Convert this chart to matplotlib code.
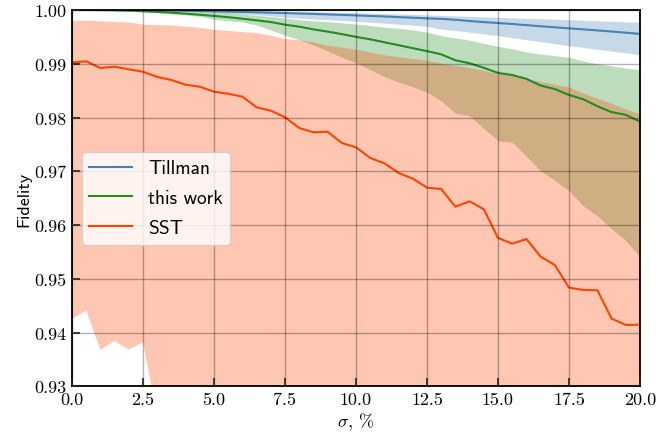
import numpy as np
import matplotlib
matplotlib.use("Agg")
import matplotlib.pyplot as plt

plt.rcParams['mathtext.fontset'] = 'cm'

sigma = [0.0, 0.5, 1.0, 1.5, 2.0, 2.5, 3.0, 3.5, 4.0, 4.5, 5.0, 5.5, 6.0, 6.5, 7.0, 7.5,
         8.0, 8.5, 9.0, 9.5, 10.0, 10.5, 11.0, 11.5, 12.0, 12.5, 13.0, 13.5, 14.0, 14.5,
         15.0, 15.5, 16.0, 16.5, 17.0, 17.5, 18.0, 18.5, 19.0, 19.5, 20.0]

tillman_mean = [1.0, 1.0, 1.0, 0.99999, 0.99997, 0.99995, 0.99992, 0.99989, 0.99985, 0.99980,
                0.99975, 0.99969, 0.99963, 0.99957, 0.99950, 0.99943, 0.99935, 0.99927, 0.99918,
                0.99909, 0.99900, 0.99890, 0.99880, 0.99868, 0.99857, 0.99845, 0.99835, 0.99818,
                0.99795, 0.99775, 0.99758, 0.99740, 0.99718, 0.99698, 0.99678, 0.99659, 0.99640,
                0.99620, 0.99600, 0.99578, 0.99556]
tillman_upper = [1.0, 1.0, 1.0, 1.0, 1.0, 1.0, 1.0, 1.0, 1.0, 1.0,
                 0.99998, 0.99995, 0.9999, 0.99987, 0.99983, 0.9998, 0.99975, 0.9997, 0.99963,
                 0.99957, 0.9995, 0.99943, 0.99935, 0.99927, 0.9992, 0.9991, 0.999, 0.9989,
                 0.99882, 0.99873, 0.99864, 0.99855, 0.99846, 0.99838, 0.99829, 0.9982, 0.9981,
                 0.998, 0.9979, 0.9978, 0.99771]
tillman_lower = [1.0, 1.0, 0.99999, 0.99998, 0.99996, 0.99993, 0.9999, 0.99985, 0.9998, 0.99973,
                 0.99963, 0.99945, 0.9993, 0.99912, 0.99892, 0.99864, 0.99848, 0.99832, 0.99818,
                 0.99805, 0.9979, 0.99773, 0.99756, 0.99737, 0.99718, 0.99697, 0.99647, 0.99618,
                 0.99588, 0.99555, 0.99522, 0.99485, 0.99448, 0.9941, 0.99373, 0.99336, 0.99303,
                 0.9927, 0.99236, 0.99202, 0.99169]

work_mean = [1.0, 1.0, 0.99998, 0.99995, 0.9999, 0.99978, 0.99965, 0.9995, 0.99932, 0.99912,
             0.9989, 0.99866, 0.99838, 0.99808, 0.99776, 0.99727, 0.9969, 0.9964, 0.99598,
             0.99552, 0.995, 0.99455, 0.994, 0.99345, 0.9929, 0.99235, 0.99175, 0.99065,
             0.9901, 0.98925, 0.9883, 0.9879, 0.9872, 0.98595, 0.9853, 0.9842, 0.9834,
             0.9821, 0.981, 0.9805, 0.97925]
work_upper = [1.0, 1.0, 1.0, 1.0, 1.0, 0.99995, 0.9999, 0.99985, 0.9998, 0.99972,
              0.99962, 0.9995, 0.9993, 0.999, 0.9988, 0.99851, 0.9982, 0.998, 0.99785,
              0.9976, 0.9974, 0.9971, 0.9968, 0.9966, 0.9963, 0.9959, 0.9952, 0.9948,
              0.9944, 0.9938, 0.99324, 0.9928, 0.9922, 0.9918, 0.9915, 0.9912, 0.9905,
              0.99, 0.9896, 0.9892, 0.9889]
work_lower = [1.0, 1.0, 0.99995, 0.9999, 0.9998, 0.99965, 0.9995, 0.9993, 0.9991, 0.9988,
              0.9983, 0.998, 0.9978, 0.9972, 0.9963, 0.9953, 0.9945, 0.9935, 0.9924,
              0.9912, 0.9902, 0.9889, 0.9876, 0.9866, 0.9857, 0.9847, 0.9831, 0.9808,
              0.9803, 0.978, 0.9757, 0.9754, 0.9728, 0.9701, 0.9683, 0.9664, 0.9636,
              0.9617, 0.9593, 0.9571, 0.9541]

sst_mean = [0.99027, 0.99046, 0.98921, 0.98945, 0.98897, 0.98852, 0.98754, 0.98698, 0.9861,
            0.98573, 0.9848, 0.98443, 0.98387, 0.9819, 0.98127, 0.98004, 0.97805, 0.97725,
            0.97736, 0.97526, 0.97446, 0.97247, 0.97148, 0.96968, 0.96862, 0.96695, 0.9667,
            0.96341, 0.96441, 0.96293, 0.95759, 0.95653, 0.9574, 0.95411, 0.95257, 0.94835,
            0.94792, 0.94786, 0.94258, 0.94141, 0.94146]
sst_upper = [0.998, 0.998, 0.9979, 0.9978, 0.9977, 0.9973, 0.9972, 0.9971, 0.9969, 0.9967,
             0.9963, 0.9961, 0.9959, 0.9957, 0.9952, 0.9946, 0.9944, 0.994, 0.9934, 0.993,
             0.9926, 0.9921, 0.9916, 0.9912, 0.9909, 0.9906, 0.99, 0.9896, 0.9892, 0.9887,
             0.9881, 0.9877, 0.9872, 0.9866, 0.9861, 0.9856, 0.9845, 0.9835, 0.9826, 0.9815,
             0.9806]
sst_lower = [0.9425, 0.9441, 0.9368, 0.9384, 0.9368, 0.9382, 0.9245, 0.921, 0.918, 0.915,
             0.912, 0.909, 0.906, 0.903, 0.9, 0.897, 0.894, 0.891, 0.888, 0.885,
             0.882, 0.879, 0.876, 0.873, 0.87, 0.867, 0.864, 0.861, 0.858, 0.855,
             0.852, 0.849, 0.846, 0.843, 0.84, 0.837, 0.834, 0.831, 0.828, 0.825,
             0.822]

xticks = [0.0, 2.5, 5.0, 7.5, 10.0, 12.5, 15.0, 17.5, 20.0]
yticks = [0.93, 0.94, 0.95, 0.96, 0.97, 0.98, 0.99, 1.00]

c_blue = '#4682b4'
c_green = '#228b22'
c_red = '#ff4500'

fig = plt.figure(figsize=(6.58, 4.35), dpi=100)
ax = fig.add_axes([0.1094, 0.1097, 0.8632, 0.865])

ax.fill_between(sigma, tillman_lower, tillman_upper, color=c_blue, alpha=0.3, linewidth=0)
ax.fill_between(sigma, work_lower, work_upper, color=c_green, alpha=0.3, linewidth=0)
ax.fill_between(sigma, sst_lower, sst_upper, color=c_red, alpha=0.3, linewidth=0)
ax.plot(sigma, tillman_mean, color=c_blue, lw=1.5, label='Tillman')
ax.plot(sigma, work_mean, color=c_green, lw=1.5, label='this work')
ax.plot(sigma, sst_mean, color=c_red, lw=1.5, label='SST')

ax.set_xlim(0, 20)
ax.set_ylim(0.93, 1.0)
ax.set_xticks(xticks)
ax.set_yticks(yticks)
ax.set_xticklabels([f'{v:.1f}' for v in xticks], fontfamily='cmr10', fontsize=13)
ax.set_yticklabels([f'{v:.2f}' for v in yticks], fontfamily='cmr10', fontsize=13)
ax.tick_params(direction='in', length=6, width=1.2, colors='#222222', labelcolor='black', pad=4)
ax.grid(True, color='black', alpha=0.3, linewidth=1.0)
ax.set_axisbelow(False)
for s in ax.spines.values():
    s.set_linewidth(1.3)
    s.set_color('black')

ax.set_xlabel(r'$\sigma$, %', fontfamily='cmr10', fontsize=13, labelpad=2)
ax.set_ylabel('Fidelity', fontfamily='cmss10', fontsize=13, labelpad=2)

leg = ax.legend(loc='center left', prop={'family': 'cmss10', 'size': 14},
                handlelength=2.2, labelspacing=0.6, borderaxespad=0.5, framealpha=0.8)

fig.savefig('out.png', dpi=100)
